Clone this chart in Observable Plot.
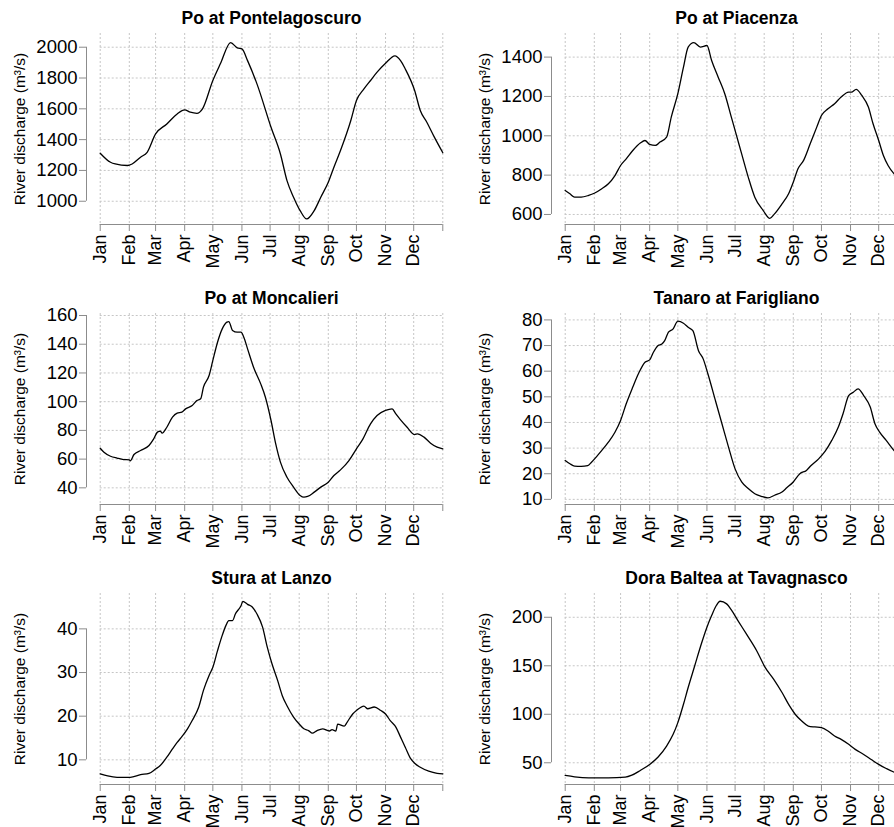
<!DOCTYPE html>
<html>
<head>
<meta charset="utf-8">
<script src="https://cdn.jsdelivr.net/npm/d3@7"></script>
<script src="https://cdn.jsdelivr.net/npm/@observablehq/plot@0.6"></script>
<style>
  html, body { margin: 0; padding: 0; background: #fff; overflow: hidden; }
  #fig { position: relative; width: 930px; height: 840px; }
  #fig > svg { position: absolute; }
</style>
</head>
<body>
<div id="fig"></div>
<script>
// ---- shared x axis (day of year) ----
const months = ["Jan","Feb","Mar","Apr","May","Jun","Jul","Aug","Sep","Oct","Nov","Dec"];
const monthStarts = [0,31,59,90,120,151,181,212,243,273,304,334];
const yearEnd = 365;

// ---- Po at Pontelagoscuro ----
const ponteDays = [0,11,16,29,34,43,50,59,71,82,90,96,103,109,120,128,139,146,151,157,167,182,192,199,206,213,220,228,235,243,249,256,267,273,281,288,295,304,314,320,325,335,341,348,356,365];
const ponteQ    = [1312,1253,1242,1232,1242,1286,1318,1437,1502,1567,1593,1578,1571,1600,1784,1892,2030,1996,1989,1913,1762,1480,1307,1134,1026,939,885,939,1026,1123,1221,1329,1524,1654,1729,1784,1838,1896,1944,1913,1859,1719,1589,1513,1416,1315];
const ponteTicks = [1000,1200,1400,1600,1800,2000];

// ---- Po at Piacenza ----
const piacDays = [0,5,10,17,25,31,39,46,53,59,65,72,80,85,90,96,101,108,113,120,126,131,137,144,151,156,163,170,177,183,188,195,202,211,218,223,231,238,243,248,254,261,268,273,280,287,294,302,305,310,316,323,328,334,339,344,352,365];
const piacQ    = [722,705,688,688,697,708,731,756,798,849,883,925,963,976,956,951,968,993,1095,1214,1349,1451,1474,1451,1459,1383,1298,1214,1095,993,908,790,688,620,580,603,654,705,764,832,875,959,1044,1103,1137,1163,1197,1222,1222,1236,1205,1146,1061,976,900,849,798,735];
const piacTicks = [600,800,1000,1200,1400];

// ---- Po at Moncalieri ----
const moncDays = [0,4,11,18,25,31,32,36,43,52,57,61,64,66,71,77,82,87,91,98,103,107,110,116,120,125,130,135,137,141,146,150,153,157,164,171,176,182,187,192,199,206,213,217,221,228,235,243,249,256,265,273,279,288,295,304,311,315,320,327,335,338,345,352,359,365];
const moncQ    = [67.6,64.8,62.0,60.7,59.7,59.5,58.8,63.2,66.0,69.5,74.1,78.8,79.5,78.1,82.2,89.2,92.0,92.7,95.0,97.3,100.8,102.0,110.1,118.2,128.7,141.4,150.7,155.4,155.8,149.6,148.4,148.4,144.9,136.8,122.9,112.4,103.1,86.9,70.6,57.9,47.4,40.5,34.7,33.5,34.0,37.0,40.5,43.9,48.6,52.5,59.0,67.2,73.0,84.6,90.4,93.9,95.0,91.5,87.3,82.2,77.1,77.6,75.3,71.1,68.3,67.2];
const moncTicks = [40,60,80,100,120,140,160];

// ---- Tanaro at Farigliano ----
const tanaDays = [0,5,10,17,24,28,33,39,46,53,59,65,72,78,85,90,94,99,103,106,110,115,120,126,131,136,142,147,152,160,167,174,181,188,195,202,209,216,223,231,236,243,250,257,262,270,277,284,291,296,302,307,312,318,325,330,335,342,352,365];
const tanaQ    = [25.2,23.9,23.0,22.9,23.2,24.5,26.5,29.1,32.3,36.2,40.8,47.3,53.8,59.0,63.5,64.4,67.4,70.0,70.6,71.9,75.2,76.5,79.5,78.7,77.1,75.8,68.0,64.8,59.0,48.6,39.5,30.4,21.9,16.8,14.2,12.2,11.2,10.6,11.6,12.9,14.5,16.8,20.0,21.3,23.2,25.8,28.8,33.0,38.2,43.4,50.5,51.8,53.1,50.5,46.0,39.5,36.2,33.0,28.4,25.5];
const tanaTicks = [10,20,30,40,50,60,70,80];

// ---- Stura at Lanzo ----
const sturDays = [0,8,18,32,43,52,59,64,71,77,82,87,93,98,105,110,116,120,125,130,134,137,141,144,150,152,157,162,167,173,178,183,189,194,199,206,212,217,222,226,231,237,244,247,251,253,260,263,269,273,281,285,292,299,304,309,315,320,325,331,335,341,350,359,365];
const sturQ    = [6.8,6.3,6.0,6.0,6.6,6.9,7.9,8.7,10.6,12.5,14.0,15.3,17.1,19.0,22.1,25.9,29.3,31.2,35.0,38.5,40.8,41.9,41.9,43.4,45.3,46.3,45.6,45.0,43.4,40.4,35.8,32.0,28.2,24.7,22.4,19.8,18.2,17.1,16.7,16.1,16.7,17.1,16.6,16.9,16.6,18.2,17.7,18.6,20.5,21.3,22.3,21.7,22.1,21.3,20.5,19.0,17.5,15.2,12.9,10.2,9.2,8.3,7.4,6.9,6.8];
const sturTicks = [10,20,30,40];

// ---- Dora Baltea at Tavagnasco ----
const doraDays = [0,10,25,46,64,71,80,90,99,108,115,120,126,131,138,145,151,156,161,165,172,177,184,193,204,213,222,231,239,245,252,259,266,273,280,287,294,302,309,318,326,334,342,352,365];
const doraQ    = [36.9,35.5,34.5,34.5,35.2,37.2,42.1,48.3,55.9,67.2,79.3,91.4,110.3,127.6,150.0,172.4,189.7,201.7,212.1,216.5,213.8,207.6,196.6,182.8,165.5,148.3,136.2,122.4,108.6,100.0,93.1,87.9,86.9,86.2,82.8,77.6,74.1,69.0,63.8,58.6,53.4,48.3,44.1,39.7,37.0];
const doraTicks = [50,100,150,200];

// ---- panel setup ----
const xDomain = [-0.04 * yearEnd, yearEnd * 1.04];
const labelOf = new Map(monthStarts.map((d, i) => [d, months[i]]));
const gridColor = "#c6c6c6";
const axisColor = "#8c8c8c";
const font = "'Liberation Sans', Arial, Helvetica, sans-serif";

const panels = [
  {title: "Po at Pontelagoscuro", days: ponteDays, q: ponteQ, ticks: ponteTicks, yDomain: [849, 2089], col: 0, row: 0},
  {title: "Po at Piacenza", days: piacDays, q: piacQ, ticks: piacTicks, yDomain: [549, 1520], col: 1, row: 0},
  {title: "Po at Moncalieri", days: moncDays, q: moncQ, ticks: moncTicks, yDomain: [28.4, 161.4], col: 0, row: 1},
  {title: "Tanaro at Farigliano", days: tanaDays, q: tanaQ, ticks: tanaTicks, yDomain: [8.0, 82.5], col: 1, row: 1},
  {title: "Stura at Lanzo", days: sturDays, q: sturQ, ticks: sturTicks, yDomain: [4.35, 48.1], col: 0, row: 2},
  {title: "Dora Baltea at Tavagnasco", days: doraDays, q: doraQ, ticks: doraTicks, yDomain: [27.6, 224.5], col: 1, row: 2}
];

const fig = document.getElementById("fig");
for (const p of panels) {
  const rows = p.days.map((d, i) => ({day: d, q: p.q[i]}));
  const xt = [...monthStarts, yearEnd];
  const svg = Plot.plot({
    width: 465, height: 280,
    marginLeft: 86, marginRight: 9, marginTop: 33, marginBottom: 56,
    style: {fontFamily: font, fontSize: "16px", background: "white", color: "black", overflow: "visible"},
    x: {domain: xDomain},
    y: {domain: p.yDomain},
    marks: [
      Plot.ruleX(xt, {x: d => d, stroke: gridColor, strokeDasharray: "2,2"}),
      Plot.ruleY(p.ticks, {y: d => d, x1: 0, x2: yearEnd, stroke: gridColor, strokeDasharray: "2,2"}),
      Plot.ruleY([p.yDomain[0]], {y: d => d, x1: 0, x2: yearEnd, stroke: axisColor}),
      Plot.ruleX([xDomain[0]], {x: d => d, y1: p.ticks[0], y2: p.ticks[p.ticks.length - 1], stroke: axisColor}),
      Plot.axisY(p.ticks, {tickSize: 7, tickPadding: 2, tickFormat: d => String(d), stroke: axisColor, fill: "black", fontSize: 18.5, label: null}),
      Plot.axisX(xt, {tickSize: 7, tickPadding: 3, tickRotate: -90, tickFormat: d => labelOf.get(d) ?? "", stroke: axisColor, fill: "black", fontSize: 18, label: null}),
      Plot.line(rows, {x: "day", y: "q", stroke: "black", strokeWidth: 1.3, curve: "monotone-x"}),
      Plot.text([p.title], {text: d => d, frameAnchor: "top", dy: -15, lineAnchor: "middle", fontWeight: "bold", fontSize: 17.5, fill: "black"}),
      Plot.text(["River discharge (m³/s)"], {text: d => d, frameAnchor: "left", dx: -66, rotate: -90, textAnchor: "middle", lineAnchor: "middle", fontSize: 15.5, fill: "black"})
    ]
  });
  svg.style.left = (p.col * 465) + "px";
  svg.style.top = (p.row * 280) + "px";
  fig.appendChild(svg);
}
</script>
</body>
</html>
